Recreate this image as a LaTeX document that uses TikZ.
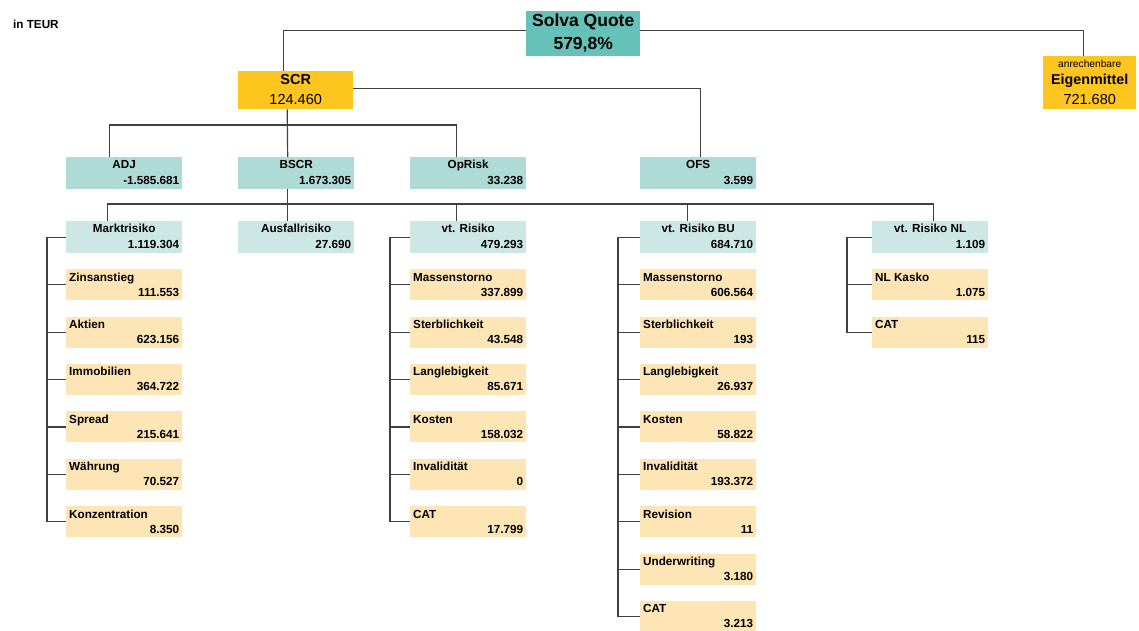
\documentclass[tikz,border=0pt]{standalone}
\usepackage{fontspec}
\setmainfont{Liberation Sans}
\usetikzlibrary{calc}
\definecolor{cSolva}{HTML}{66C2B8}
\definecolor{cSCR}{HTML}{FDC51E}
\definecolor{cLtwo}{HTML}{AEDBD6}
\definecolor{cLthree}{HTML}{CDE8E4}
\definecolor{cKid}{HTML}{FDE5B5}
\definecolor{cLine}{HTML}{404040}
\tikzset{
  lbl/.style={inner sep=0, font=\fontsize{11.7}{13}\selectfont\bfseries},
  basebox/.style={draw=none, anchor=north west, inner sep=0, minimum width=116pt},
  kidbox/.style={basebox, fill=cKid, minimum height=31pt},
  ltwobox/.style={basebox, fill=cLtwo, minimum height=32pt},
  lthreebox/.style={basebox, fill=cLthree, minimum height=32pt},
  conn/.style={draw=cLine, line width=1.2pt},
}
\newcommand\kidnode[5]{% id, x, y, name, value
  \node[kidbox] (#1) at (#2,#3) {};
  \node[lbl, anchor=mid west] (#1-n) at ($(#1.north west)+(3,9.5)$) {#4};
  \node[lbl, anchor=mid east] (#1-v) at ($(#1.north east)+(-3,24.5)$) {#5};
}
\newcommand\catnode[6]{% style, id, x, y, name, value
  \node[#1] (#2) at (#3,#4) {};
  \node[lbl, anchor=mid] (#2-n) at ($(#2.north)+(0,9)$) {#5};
  \node[lbl, anchor=mid east] (#2-v) at ($(#2.north east)+(-3,25)$) {#6};
}
\begin{document}
\begin{tikzpicture}[x=1pt,y=-1pt]
\useasboundingbox (0,0) rectangle (1139,630);

\node[lbl, anchor=mid west] (teur) at (13,26) {in TEUR};

% top
\node[basebox, fill=cSolva, minimum width=114pt, minimum height=45pt] (solva) at (526,11) {};
\node[inner sep=0, anchor=mid, font=\fontsize{17.5}{20}\selectfont\bfseries] (solva-n) at ($(solva.north)+(0,13)$) {Solva Quote};
\node[inner sep=0, anchor=mid, font=\fontsize{17.5}{20}\selectfont\bfseries] (solva-v) at ($(solva.north)+(0,36)$) {579,8\%};

\node[basebox, fill=cSCR, minimum width=115pt, minimum height=38pt] (scr) at (238,71) {};
\node[inner sep=0, anchor=mid, font=\fontsize{14.5}{17}\selectfont\bfseries] (scr-n) at ($(scr.north)+(0,11)$) {SCR};
\node[inner sep=0, anchor=mid, font=\fontsize{14.5}{17}\selectfont] (scr-v) at ($(scr.north)+(0,31)$) {124.460};

\node[basebox, fill=cSCR, minimum width=93pt, minimum height=53pt] (eig) at (1043,56) {};
\node[inner sep=0, anchor=mid, font=\fontsize{10.2}{12}\selectfont] (eig-a) at ($(eig.north)+(0,9)$) {anrechenbare};
\node[inner sep=0, anchor=mid, font=\fontsize{14.3}{17}\selectfont\bfseries] (eig-n) at ($(eig.north)+(0,26)$) {Eigenmittel};
\node[inner sep=0, anchor=mid, font=\fontsize{14.5}{17}\selectfont] (eig-v) at ($(eig.north)+(0,46)$) {721.680};

% level 2
\catnode{ltwobox}{adj}{66}{157}{ADJ}{-1.585.681}
\catnode{ltwobox}{bscr}{238}{157}{BSCR}{1.673.305}
\catnode{ltwobox}{oprisk}{410}{157}{OpRisk}{33.238}
\catnode{ltwobox}{ofs}{640}{157}{OFS}{3.599}

% level 3
\catnode{lthreebox}{mkt}{66}{221}{Marktrisiko}{1.119.304}
\catnode{lthreebox}{ausf}{238}{221}{Ausfallrisiko}{27.690}
\catnode{lthreebox}{vtr}{410}{221}{vt. Risiko}{479.293}
\catnode{lthreebox}{bu}{640}{221}{vt. Risiko BU}{684.710}
\catnode{lthreebox}{nl}{872}{221}{vt. Risiko NL}{1.109}

% children
\foreach \n/\v [count=\i] in {Zinsanstieg/111.553, Aktien/623.156, Immobilien/364.722, Spread/215.641, W\"ahrung/70.527, Konzentration/8.350}{
  \pgfmathsetmacro\yy{269+(\i-1)*47.4}
  \kidnode{m\i}{66}{\yy}{\n}{\v}
}
\foreach \n/\v [count=\i] in {Massenstorno/337.899, Sterblichkeit/43.548, Langlebigkeit/85.671, Kosten/158.032, Invalidit\"at/0, CAT/17.799}{
  \pgfmathsetmacro\yy{269+(\i-1)*47.4}
  \kidnode{v\i}{410}{\yy}{\n}{\v}
}
\foreach \n/\v [count=\i] in {Massenstorno/606.564, Sterblichkeit/193, Langlebigkeit/26.937, Kosten/58.822, Invalidit\"at/193.372, Revision/11, Underwriting/3.180, CAT/3.213}{
  \pgfmathsetmacro\yy{269+(\i-1)*47.4}
  \kidnode{b\i}{640}{\yy}{\n}{\v}
}
\foreach \n/\v [count=\i] in {NL Kasko/1.075, CAT/115}{
  \pgfmathsetmacro\yy{269+(\i-1)*47.4}
  \kidnode{n\i}{872}{\yy}{\n}{\v}
}

% connectors top
\draw[conn] ([yshift=3.5pt]solva.west) -| ([xshift=-12.5pt]scr.north);
\draw[conn] ([yshift=3.5pt]solva.east) -| ([xshift=-6pt]eig.north);
\draw[conn] ([yshift=2pt]scr.east) -| ([xshift=2.5pt]ofs.north);
\draw[conn] ([xshift=-8.5pt]scr.south) -- ([xshift=-8.5pt]bscr.north);
\draw[conn] ([xshift=-15pt]adj.north) -- ++(0,-32) -| ([xshift=-11.5pt]oprisk.north);
% connectors level 3
\draw[conn] ([xshift=-8.5pt]bscr.south) -- ([xshift=-8.5pt]ausf.north);
\draw[conn] ([xshift=-17pt]mkt.north) -- ++(0,-17) -| ([xshift=3pt]nl.north);
\draw[conn] ([xshift=-11.5pt]vtr.north) -- ++(0,-17);
\draw[conn] ([xshift=-10.5pt]bu.north) -- ++(0,-17);

% spines
\draw[conn] (mkt.west) -- ++(-19,0) |- (m6.west);
\foreach \i in {1,...,5} \draw[conn] (m\i.west) -- ++(-19,0);
\draw[conn] (vtr.west) -- ++(-20,0) |- (v6.west);
\foreach \i in {1,...,5} \draw[conn] (v\i.west) -- ++(-20,0);
\draw[conn] (bu.west) -- ++(-22,0) |- (b8.west);
\foreach \i in {1,...,7} \draw[conn] (b\i.west) -- ++(-22,0);
\draw[conn] (nl.west) -- ++(-25,0) |- (n2.west);
\draw[conn] (n1.west) -- ++(-25,0);
\end{tikzpicture}
\end{document}
